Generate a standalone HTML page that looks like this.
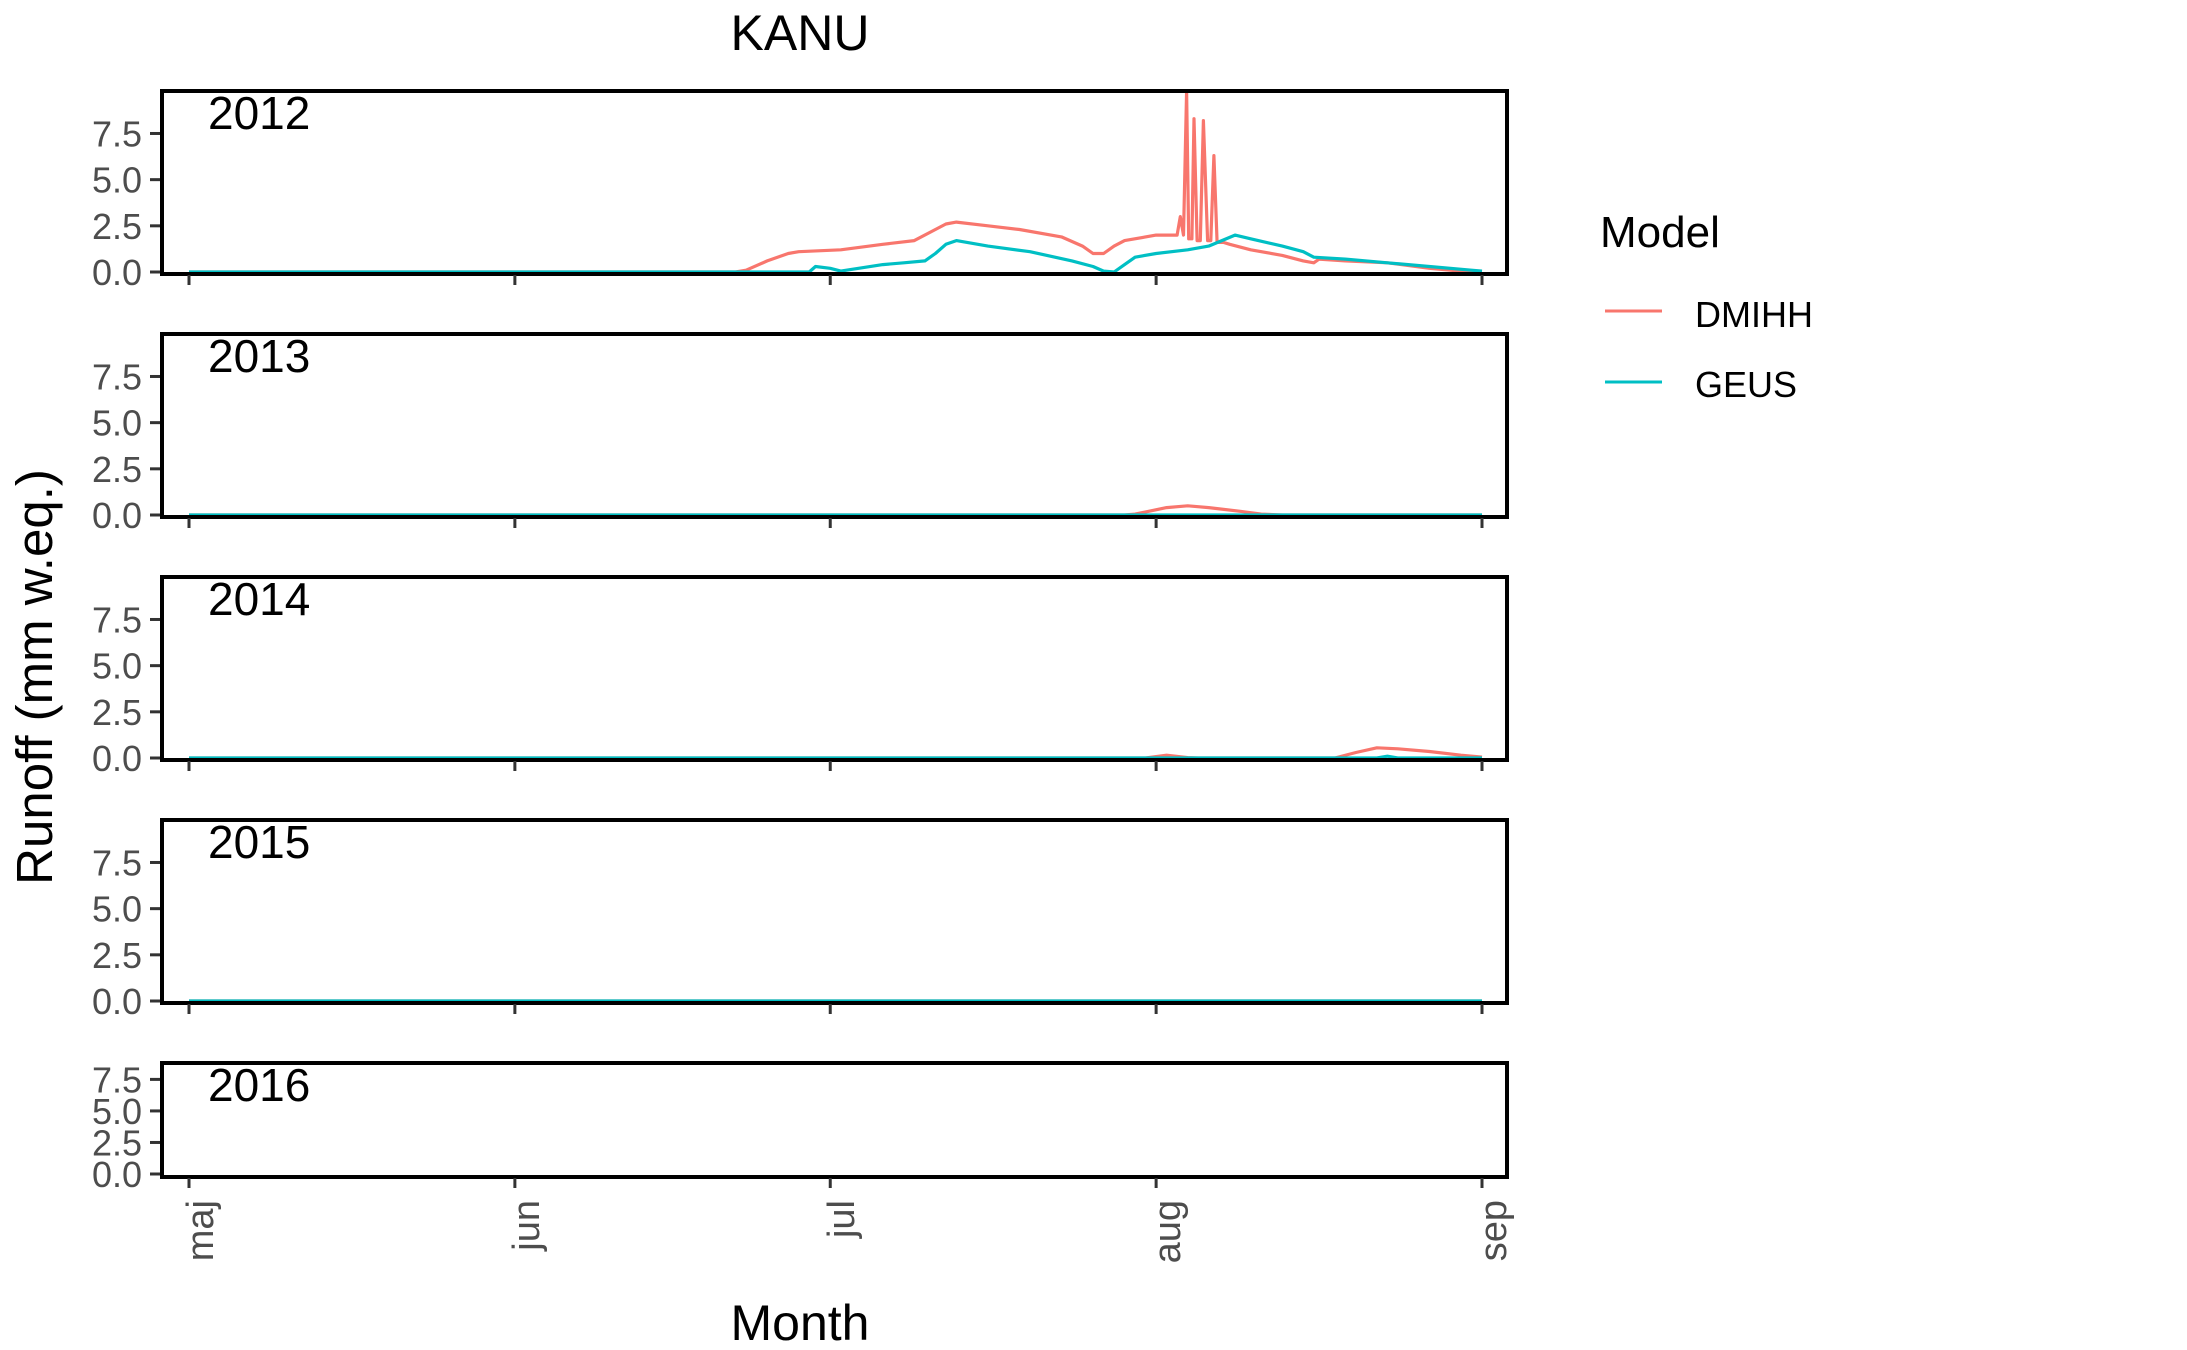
<!DOCTYPE html>
<html><head><meta charset="utf-8"><style>
body{margin:0;background:#fff}
svg{display:block;font-family:"Liberation Sans",sans-serif}
</style></head><body>
<svg id="chart" width="2187" height="1350" viewBox="0 0 2187 1350">
<text x="800" y="50" font-size="50" text-anchor="middle">KANU</text>
<text transform="translate(52,677) rotate(-90)" font-size="51" text-anchor="middle">Runoff (mm w.eq.)</text>
<text x="800" y="1340" font-size="50" text-anchor="middle">Month</text>
<g>
<text x="1600" y="247" font-size="44">Model</text>
<line x1="1605" x2="1662" y1="311" y2="311" stroke="#F8766D" stroke-width="3"/>
<text x="1695" y="327" font-size="36">DMIHH</text>
<line x1="1605" x2="1662" y1="382" y2="382" stroke="#00BFC4" stroke-width="3"/>
<text x="1695" y="397" font-size="36">GEUS</text>
</g>
<g id="panels"></g>
</svg>
<script>
const years = ["2012","2013","2014","2015","2016"];
const monthLabels = ["maj","jun","jul","aug","sep"];
const monthDays = [0,31,61,92,123];
const yTicks = [0,2.5,5,7.5];
const yTickLabels = ["0.0","2.5","5.0","7.5"];
// [day since May 1, value]
const dmi2012Days = [0,52,53,55,57,58,62,66,69,71,72,73,76,79,83,85,86,87,88,89,92,94,94.3,94.6,94.9,95.1,95.4,95.6,95.9,96.2,96.5,96.9,97.2,97.5,97.8,98.1,98.4,99,101,104,106,107,107.5,110,114,118,121,123];
const dmi2012Vals = [0,0,0.1,0.6,1.0,1.1,1.2,1.5,1.7,2.3,2.6,2.7,2.5,2.3,1.9,1.4,1.0,1.0,1.4,1.7,2.0,2.0,3.0,2.0,9.8,1.8,1.8,8.3,1.7,1.7,8.2,1.7,1.7,6.3,1.6,1.6,1.6,1.5,1.2,0.9,0.6,0.5,0.7,0.6,0.5,0.2,0.05,0];
const geus2012Days = [0,59,59.6,61,62,66,68,70,71,72,73,76,80,84,86,87,88,89,90,92,95,97,99.5,101,104,106,107,110,114,118,122,123];
const geus2012Vals = [0,0,0.3,0.2,0.05,0.4,0.5,0.6,1.0,1.5,1.7,1.4,1.1,0.6,0.3,0.05,0,0.4,0.8,1.0,1.2,1.4,2.0,1.8,1.4,1.1,0.8,0.7,0.5,0.3,0.1,0.05];
const dmi2013Days = [0,89,90,93,95,97,100,102,104,123];
const dmi2013Vals = [0,0,0.05,0.4,0.5,0.4,0.2,0.05,0,0];
const geus2013Days = [0,123];
const geus2013Vals = [0,0];
const dmi2014Days = [0,91,93,95,96,109,111,113,115,118,121,123];
const dmi2014Vals = [0,0,0.15,0.02,0,0,0.3,0.55,0.5,0.35,0.15,0.05];
const geus2014Days = [0,113,114,115,123];
const geus2014Vals = [0,0,0.1,0,0];
const dmi2015Days = [0,123];
const dmi2015Vals = [0,0];
const geus2015Days = [0,123];
const geus2015Vals = [0,0];

const series = {
 "2012":[[dmi2012Days,dmi2012Vals],[geus2012Days,geus2012Vals]],
 "2013":[[dmi2013Days,dmi2013Vals],[geus2013Days,geus2013Vals]],
 "2014":[[dmi2014Days,dmi2014Vals],[geus2014Days,geus2014Vals]],
 "2015":[[dmi2015Days,dmi2015Vals],[geus2015Days,geus2015Vals]],
 "2016":[]
};
const colors=["#F8766D","#00BFC4"];
const names=["dmihh","geus"];
const NS="http://www.w3.org/2000/svg";
const root=document.getElementById("panels");
const L=162,R=1507;
const panelTop=[91,334,577,820,1063];
const panelBot=[274,517,760,1003,1177];
const zeroY=[272,515,758,1001,1174];
const topVal=[9.8,9.8,9.8,9.8,8.8];
function xs(d){return 189+d*(1482-189)/123;}
function mk(tag,attrs,parent){const e=document.createElementNS(NS,tag);for(const k in attrs)e.setAttribute(k,attrs[k]);parent.appendChild(e);return e;}
years.forEach((yr,i)=>{
 const g=mk("g",{},root);
 
 
 const y0=zeroY[i], sc=(y0-panelTop[i])/topVal[i];
 const ys=v=>y0-v*sc;
 (series[yr]||[]).forEach((s,j)=>{
  const pts=s[0].map((d,k)=>xs(d).toFixed(1)+","+ys(s[1][k]).toFixed(1)).join(" ");
  const pl=mk("polyline",{points:pts,fill:"none",stroke:colors[j],"stroke-width":"3.2","stroke-linejoin":"round"},g);
  
  
 });
 const b=mk("rect",{x:L,y:panelTop[i],width:R-L,height:panelBot[i]-panelTop[i],fill:"none",stroke:"#000","stroke-width":"4"},g);
 
 
 const t=mk("text",{x:208,y:panelTop[i]+38,"font-size":"46"},g);
 t.textContent=yr;
 
 
 yTicks.forEach((v,k)=>{
  const tk=mk("line",{x1:150,x2:160,y1:ys(v),y2:ys(v),stroke:"#333","stroke-width":"3"},g);
  
  
  const tl=mk("text",{x:142,y:ys(v)+13,"font-size":"36","text-anchor":"end",fill:"#4d4d4d"},g);
  tl.textContent=yTickLabels[k];
  
  
 });
 monthDays.forEach((d,k)=>{
  const tk=mk("line",{x1:xs(d),x2:xs(d),y1:panelBot[i]+1,y2:panelBot[i]+11,stroke:"#333","stroke-width":"3"},g);
  
  
 });
});
const gx=mk("g",{},root);


monthLabels.forEach((m,k)=>{
 const x=xs(monthDays[k]);
 const t=mk("text",{transform:"translate("+(x+24)+",1200) rotate(-90)","font-size":"38","text-anchor":"end",fill:"#4d4d4d"},gx);
 t.textContent=m;
 
 
});
</script>
</body></html>
